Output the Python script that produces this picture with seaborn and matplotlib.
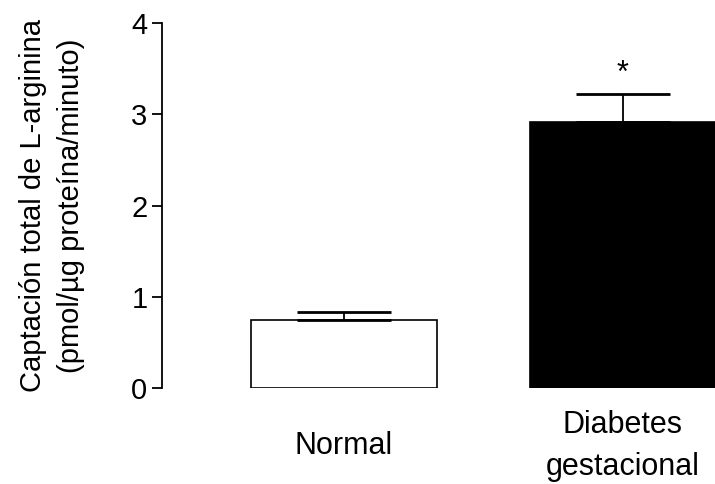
import matplotlib
matplotlib.use("Agg")
import matplotlib.pyplot as plt
import seaborn as sns
import pandas as pd

# data
groups = ['Normal', 'Diabetes\ngestacional']
means = [0.75, 2.92]
sem = [0.08, 0.30]
colors = ['white', 'black']
yticks = [0, 1, 2, 3, 4]

sns.set_style("white")
plt.rcParams['font.family'] = ['Liberation Sans', 'DejaVu Sans']
plt.rcParams['text.color'] = 'black'
plt.rcParams['axes.labelcolor'] = 'black'
plt.rcParams['xtick.color'] = 'black'
plt.rcParams['ytick.color'] = 'black'

df = pd.DataFrame({'grupo': groups, 'captacion': means})

fig = plt.figure(figsize=(7.15, 4.84), dpi=100)
ax = fig.add_axes([0.2266, 0.198, 0.7734, 0.754])

sns.barplot(data=df, x='grupo', y='captacion', hue='grupo', palette=colors,
            width=0.665, edgecolor='black', linewidth=1.2, legend=False, ax=ax)

# upper error bars only
ax.errorbar(range(len(groups)), means, yerr=[[0] * len(sem), sem], fmt='none',
            ecolor='black', elinewidth=1.3, capsize=34, capthick=2)

ax.text(1, 3.45, '*', ha='center', va='center', fontsize=22)

ax.set_ylim(0, 4)
ax.set_xlim(-0.652, 1.33)
ax.set_yticks(yticks)
ax.set_xlabel('')
ax.set_ylabel('Captación total de L-arginina\n(pmol/µg proteína/minuto)',
              fontsize=21, labelpad=33, linespacing=1.45)
ax.tick_params(axis='y', labelsize=21, left=True, length=7, width=1.3, pad=3.5)
ax.tick_params(axis='x', labelsize=22, bottom=False, pad=38)
for lab in ax.get_xticklabels():
    lab.set_va('center')
    lab.set_linespacing(1.5)

sns.despine(ax=ax, top=True, right=True, bottom=True)
ax.spines['left'].set_linewidth(1.3)
ax.spines['left'].set_color('black')

fig.savefig('out.png', dpi=100)
